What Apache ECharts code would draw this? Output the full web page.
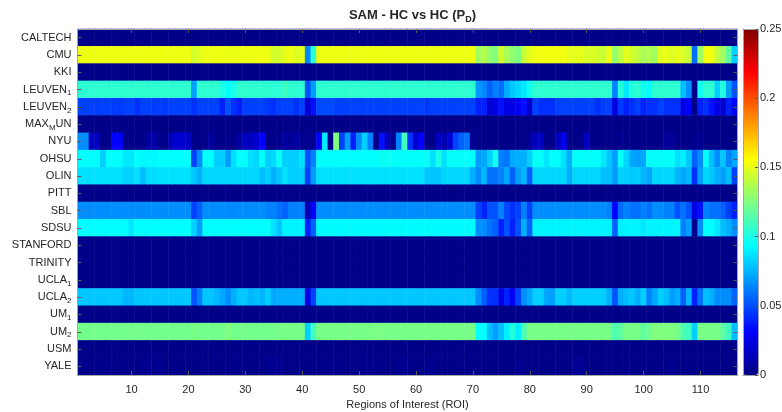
<!DOCTYPE html>
<html>
<head>
<meta charset="utf-8">
<script src="https://cdn.jsdelivr.net/npm/echarts@6/dist/echarts.min.js"></script>
<style>html,body{margin:0;background:#fff}#chart{width:782px;height:412px}</style>
</head>
<body>
<div id="chart"></div>
<script>
// rows top to bottom, tick labels use rich text for the subscripts
const sites = ['CALTECH', 'CMU', 'KKI', 'LEUVEN1', 'LEUVEN2', 'MAXMUN', 'NYU', 'OHSU', 'OLIN', 'PITT',
  'SBL', 'SDSU', 'STANFORD', 'TRINITY', 'UCLA1', 'UCLA2', 'UM1', 'UM2', 'USM', 'YALE']
const siteLabels = ['CALTECH', 'CMU', 'KKI', 'LEUVEN{s|1}', 'LEUVEN{s|2}', 'MAX{s|M}UN', 'NYU', 'OHSU', 'OLIN', 'PITT',
  'SBL', 'SDSU', 'STANFORD', 'TRINITY', 'UCLA{s|1}', 'UCLA{s|2}', 'UM{s|1}', 'UM{s|2}', 'USM', 'YALE']
const roi = Array.from({ length: 116 }, (_, i) => String(i + 1))
const colorTicks = [0, 0.05, 0.1, 0.15, 0.2, 0.25]

const caltech = [
  .002,.002,.002,.002,.002,.002,.002,.002,.002,.002, .002,.002,.002,.002,.002,.002,.002,.002,.002,.002,
  .002,.002,.002,.002,.002,.002,.002,.002,.002,.002, .002,.002,.002,.002,.002,.002,.002,.002,.002,.002,
  .002,.002,.002,.002,.002,.002,.002,.002,.002,.002, .002,.002,.002,.002,.002,.002,.002,.002,.002,.002,
  .002,.002,.002,.002,.002,.002,.002,.002,.002,.002, .002,.002,.002,.002,.002,.002,.002,.002,.002,.002,
  .002,.002,.002,.002,.002,.002,.002,.002,.002,.002, .002,.002,.002,.002,.002,.002,.002,.002,.002,.002,
  .002,.002,.002,.002,.002,.002,.002,.002,.002,.002, .002,.002,.002,.002,.002,.002,
]
const cmu = [
  .152,.152,.152,.152,.152,.152,.152,.152,.152,.152, .152,.152,.152,.152,.152,.152,.152,.152,.152,.152,
  .145,.149,.152,.152,.152,.152,.151,.151,.152,.152, .152,.152,.152,.152,.146,.146,.150,.152,.148,.150,
  .065,.104,.152,.152,.152,.152,.152,.152,.152,.152, .152,.152,.152,.152,.152,.152,.152,.152,.152,.152,
  .152,.152,.152,.152,.152,.152,.152,.152,.152,.152, .133,.137,.129,.125,.145,.135,.129,.125,.143,.149,
  .153,.153,.153,.153,.153,.153,.150,.150,.150,.147, .147,.145,.143,.152,.130,.140,.149,.145,.141,.135,
  .137,.133,.149,.151,.147,.151,.147,.143,.058,.133, .153,.153,.141,.133,.117,.082,
]
const kki = [
  .002,.002,.002,.002,.002,.002,.002,.002,.002,.002, .002,.002,.002,.002,.002,.002,.002,.002,.002,.002,
  .002,.002,.002,.002,.002,.002,.002,.002,.002,.002, .002,.002,.002,.002,.002,.002,.002,.002,.002,.002,
  .002,.002,.002,.002,.002,.002,.002,.002,.002,.002, .002,.002,.002,.002,.002,.002,.002,.002,.002,.002,
  .002,.002,.002,.002,.002,.002,.002,.002,.002,.002, .002,.002,.002,.002,.002,.002,.002,.002,.002,.002,
  .002,.002,.002,.002,.002,.002,.002,.002,.002,.002, .002,.002,.002,.002,.002,.002,.002,.002,.002,.002,
  .002,.002,.002,.002,.002,.002,.002,.002,.002,.002, .002,.002,.002,.002,.002,.002,
]
const leuven1 = [
  .105,.105,.105,.105,.105,.105,.105,.105,.105,.105, .105,.105,.105,.105,.105,.105,.105,.105,.105,.105,
  .070,.105,.105,.105,.105,.100,.094,.100,.105,.105, .105,.105,.105,.105,.104,.104,.109,.105,.105,.105,
  .051,.070,.105,.105,.105,.105,.105,.105,.105,.105, .105,.105,.105,.105,.105,.105,.105,.105,.105,.105,
  .105,.105,.105,.105,.105,.105,.105,.105,.105,.105, .068,.064,.055,.063,.058,.073,.080,.084,.088,.098,
  .105,.105,.105,.105,.105,.105,.105,.105,.105,.105, .105,.105,.105,.105,.063,.102,.088,.102,.105,.098,
  .094,.105,.105,.105,.105,.105,.078,.066,.002,.098, .105,.105,.082,.102,.070,.051,
]
const leuven2 = [
  .047,.047,.047,.046,.047,.047,.046,.045,.047,.047, .043,.047,.047,.046,.047,.045,.047,.047,.047,.047,
  .043,.047,.047,.047,.047,.039,.051,.043,.038,.047, .047,.047,.047,.045,.043,.047,.047,.047,.043,.047,
  .020,.035,.049,.049,.049,.047,.047,.047,.047,.047, .047,.047,.047,.047,.047,.047,.047,.047,.047,.047,
  .047,.045,.047,.047,.047,.047,.047,.047,.047,.047, .039,.039,.020,.024,.035,.024,.024,.028,.035,.020,
  .047,.043,.043,.043,.047,.047,.047,.047,.047,.047, .047,.043,.047,.047,.024,.045,.039,.043,.047,.039,
  .043,.043,.047,.043,.043,.043,.024,.031,.002,.039, .043,.035,.024,.020,.039,.031,
]
const maxmun = [
  .002,.002,.002,.002,.002,.002,.002,.002,.002,.002, .002,.002,.002,.002,.002,.002,.002,.002,.002,.002,
  .002,.002,.002,.002,.002,.002,.002,.002,.002,.002, .002,.002,.002,.002,.002,.002,.002,.002,.002,.002,
  .002,.002,.002,.002,.002,.002,.002,.002,.002,.002, .002,.002,.002,.002,.002,.002,.002,.002,.002,.002,
  .002,.002,.002,.002,.002,.002,.002,.002,.002,.002, .002,.002,.002,.002,.002,.002,.002,.002,.002,.002,
  .002,.002,.002,.002,.002,.002,.002,.002,.002,.002, .002,.002,.002,.002,.002,.002,.002,.002,.002,.002,
  .002,.002,.002,.002,.002,.002,.002,.002,.002,.002, .002,.002,.002,.002,.002,.002,
]
const nyu = [
  .066,.066,.016,.016,.002,.002,.031,.031,.002,.002, .002,.002,.008,.010,.003,.002,.014,.020,.020,.016,
  .002,.002,.002,.008,.002,.002,.002,.002,.008,.016, .016,.020,.031,.002,.002,.004,.008,.006,.008,.004,
  .004,.004,.031,.088,.002,.125,.047,.070,.039,.066, .082,.063,.002,.035,.016,.004,.063,.109,.043,.020,
  .031,.002,.002,.016,.012,.020,.047,.055,.059,.004, .002,.002,.002,.002,.002,.002,.002,.002,.002,.006,
  .016,.016,.002,.002,.016,.028,.002,.002,.002,.016, .002,.002,.002,.002,.002,.004,.002,.002,.002,.002,
  .002,.002,.002,.006,.006,.002,.002,.002,.004,.004, .002,.002,.002,.002,.002,.002,
]
const ohsu = [
  .094,.094,.094,.094,.082,.094,.094,.094,.088,.088, .094,.092,.092,.092,.094,.094,.094,.094,.094,.094,
  .047,.066,.094,.094,.082,.082,.070,.086,.094,.094, .086,.084,.094,.082,.085,.096,.082,.082,.082,.086,
  .051,.063,.094,.094,.094,.094,.094,.094,.094,.094, .094,.094,.094,.096,.096,.095,.095,.095,.095,.095,
  .095,.095,.086,.100,.086,.095,.095,.095,.095,.095, .070,.072,.082,.098,.063,.060,.072,.074,.074,.082,
  .095,.095,.088,.095,.094,.086,.074,.095,.095,.095, .095,.095,.088,.080,.070,.095,.084,.072,.070,.072,
  .095,.095,.095,.095,.095,.086,.090,.080,.055,.066, .095,.078,.066,.080,.063,.072,
]
const olin = [
  .086,.086,.086,.086,.086,.086,.086,.086,.083,.083, .086,.078,.085,.085,.086,.086,.086,.086,.086,.086,
  .080,.074,.084,.084,.084,.084,.084,.084,.084,.084, .084,.084,.078,.082,.074,.080,.086,.082,.082,.082,
  .047,.070,.086,.086,.086,.086,.086,.086,.086,.086, .086,.086,.086,.086,.086,.086,.086,.086,.086,.086,
  .086,.080,.080,.080,.084,.084,.084,.084,.084,.074, .066,.076,.059,.059,.063,.072,.055,.070,.076,.055,
  .084,.084,.084,.084,.084,.084,.074,.084,.084,.084, .084,.084,.078,.078,.070,.082,.082,.080,.082,.076,
  .072,.084,.084,.084,.084,.076,.072,.076,.043,.070, .084,.080,.074,.070,.078,.047,
]
const pitt = [
  .002,.002,.002,.002,.002,.002,.002,.002,.002,.002, .002,.002,.002,.002,.002,.002,.002,.002,.002,.002,
  .002,.002,.002,.002,.002,.002,.002,.002,.002,.002, .002,.002,.002,.002,.002,.002,.002,.002,.002,.002,
  .002,.002,.002,.002,.002,.002,.002,.002,.002,.002, .002,.002,.002,.002,.002,.002,.002,.002,.002,.002,
  .002,.002,.002,.002,.002,.002,.002,.002,.002,.002, .002,.002,.002,.002,.002,.002,.002,.002,.002,.002,
  .002,.002,.002,.002,.002,.002,.002,.002,.002,.002, .002,.002,.002,.002,.002,.002,.002,.002,.002,.002,
  .002,.002,.002,.002,.002,.002,.002,.002,.002,.002, .002,.002,.002,.002,.002,.002,
]
const sbl = [
  .066,.066,.066,.066,.066,.066,.066,.066,.066,.066, .066,.066,.066,.066,.066,.066,.066,.066,.066,.066,
  .047,.055,.066,.066,.066,.066,.065,.065,.066,.066, .066,.066,.066,.063,.063,.059,.055,.063,.063,.063,
  .012,.031,.066,.066,.066,.066,.066,.066,.066,.066, .066,.066,.066,.066,.066,.066,.066,.066,.066,.066,
  .066,.066,.066,.066,.066,.066,.066,.066,.066,.066, .047,.039,.051,.051,.063,.049,.043,.047,.063,.047,
  .066,.066,.066,.066,.066,.066,.066,.066,.066,.066, .066,.066,.066,.063,.031,.057,.063,.059,.059,.063,
  .059,.066,.066,.063,.063,.051,.059,.051,.024,.035, .063,.059,.059,.055,.047,.039,
]
const sdsu = [
  .094,.094,.094,.094,.094,.094,.094,.094,.094,.088, .094,.094,.094,.094,.094,.094,.094,.094,.094,.094,
  .082,.070,.094,.094,.094,.094,.094,.094,.094,.094, .094,.094,.094,.094,.086,.080,.091,.091,.091,.091,
  .039,.055,.093,.093,.093,.093,.093,.093,.093,.093, .093,.093,.093,.093,.093,.093,.093,.093,.093,.093,
  .093,.093,.093,.093,.093,.093,.093,.093,.093,.093, .066,.066,.059,.055,.039,.051,.039,.051,.074,.055,
  .091,.091,.091,.091,.091,.091,.091,.091,.091,.091, .091,.091,.091,.091,.055,.090,.091,.091,.091,.088,
  .091,.091,.091,.091,.091,.092,.063,.070,.003,.066, .094,.094,.088,.078,.074,.066,
]
const stanford = [
  .002,.002,.002,.002,.002,.002,.002,.002,.002,.002, .002,.002,.002,.002,.002,.002,.002,.002,.002,.002,
  .002,.002,.002,.002,.002,.002,.002,.002,.002,.002, .002,.002,.002,.002,.002,.002,.002,.002,.002,.002,
  .002,.002,.002,.002,.002,.002,.002,.002,.002,.002, .002,.002,.002,.002,.002,.002,.002,.002,.002,.002,
  .002,.002,.002,.002,.002,.002,.002,.002,.002,.002, .002,.002,.002,.002,.002,.002,.002,.002,.002,.002,
  .002,.002,.002,.002,.002,.002,.002,.002,.002,.002, .002,.002,.002,.002,.002,.002,.002,.002,.002,.002,
  .002,.002,.002,.002,.002,.002,.002,.002,.002,.002, .002,.002,.002,.002,.002,.002,
]
const trinity = [
  .002,.002,.002,.002,.002,.002,.002,.002,.002,.002, .002,.002,.002,.002,.002,.002,.002,.002,.002,.002,
  .002,.002,.002,.002,.002,.002,.002,.002,.002,.002, .002,.002,.002,.002,.002,.002,.002,.002,.002,.002,
  .002,.002,.002,.002,.002,.002,.002,.002,.002,.002, .002,.002,.002,.002,.002,.002,.002,.002,.002,.002,
  .002,.002,.002,.002,.002,.002,.002,.002,.002,.002, .002,.002,.002,.002,.002,.002,.002,.002,.002,.002,
  .002,.002,.002,.002,.002,.002,.002,.002,.002,.002, .002,.002,.002,.002,.002,.002,.002,.002,.002,.002,
  .002,.002,.002,.002,.002,.002,.002,.002,.002,.002, .002,.002,.002,.002,.002,.002,
]
const ucla1 = [
  .002,.002,.002,.002,.002,.002,.002,.002,.002,.002, .002,.002,.002,.002,.002,.002,.002,.002,.002,.002,
  .002,.002,.002,.002,.002,.002,.002,.002,.002,.002, .002,.002,.002,.002,.002,.002,.002,.002,.002,.002,
  .002,.002,.002,.002,.002,.002,.002,.002,.002,.002, .002,.002,.002,.002,.002,.002,.002,.002,.002,.002,
  .002,.002,.002,.002,.002,.002,.002,.002,.002,.002, .002,.002,.002,.002,.002,.002,.002,.002,.002,.002,
  .002,.002,.002,.002,.002,.002,.002,.002,.002,.002, .002,.002,.002,.002,.002,.002,.002,.002,.002,.002,
  .002,.002,.002,.002,.002,.002,.002,.002,.002,.002, .002,.002,.002,.002,.002,.002,
]
const ucla2 = [
  .080,.080,.080,.080,.080,.080,.080,.080,.076,.076, .080,.080,.080,.080,.080,.080,.080,.080,.080,.080,
  .051,.063,.080,.080,.076,.072,.066,.074,.080,.080, .076,.078,.076,.082,.072,.074,.074,.074,.074,.074,
  .024,.047,.080,.080,.080,.080,.080,.080,.080,.080, .080,.080,.080,.080,.080,.080,.080,.080,.080,.080,
  .080,.080,.080,.080,.080,.080,.080,.080,.080,.080, .066,.055,.043,.043,.024,.039,.028,.047,.066,.072,
  .082,.082,.072,.070,.082,.082,.076,.082,.082,.082, .082,.082,.082,.074,.051,.074,.078,.080,.074,.082,
  .063,.072,.082,.078,.070,.074,.055,.076,.039,.059, .078,.074,.066,.066,.066,.055,
]
const um1 = [
  .002,.002,.002,.002,.002,.002,.002,.002,.002,.002, .002,.002,.002,.002,.002,.002,.002,.002,.002,.002,
  .002,.002,.002,.002,.002,.002,.002,.002,.002,.002, .002,.002,.002,.002,.002,.002,.002,.002,.002,.002,
  .002,.002,.002,.002,.002,.002,.002,.002,.002,.002, .002,.002,.002,.002,.002,.002,.002,.002,.002,.002,
  .002,.002,.002,.002,.002,.002,.002,.002,.002,.002, .002,.002,.002,.002,.002,.002,.002,.002,.002,.002,
  .002,.002,.002,.002,.002,.002,.002,.002,.002,.002, .002,.002,.002,.002,.002,.002,.002,.002,.002,.002,
  .002,.002,.002,.002,.002,.002,.002,.002,.002,.002, .002,.002,.002,.002,.002,.002,
]
const um2 = [
  .122,.122,.122,.122,.122,.122,.122,.122,.122,.122, .122,.122,.122,.122,.122,.122,.122,.122,.122,.122,
  .123,.122,.122,.122,.122,.122,.125,.122,.122,.122, .122,.122,.122,.122,.122,.123,.123,.123,.123,.123,
  .082,.109,.123,.123,.123,.123,.123,.123,.123,.123, .123,.123,.124,.124,.123,.123,.123,.123,.123,.123,
  .123,.123,.123,.123,.123,.123,.123,.123,.123,.123, .094,.094,.078,.070,.078,.090,.102,.090,.113,.123,
  .123,.123,.123,.123,.123,.123,.123,.123,.123,.123, .123,.123,.123,.123,.113,.117,.123,.123,.123,.117,
  .121,.125,.125,.125,.125,.123,.113,.109,.082,.123, .123,.123,.123,.117,.109,.078,
]
const usm = [
  .002,.002,.002,.002,.002,.002,.002,.002,.002,.002, .002,.002,.002,.002,.002,.002,.002,.002,.002,.002,
  .002,.002,.002,.002,.002,.002,.002,.002,.002,.002, .002,.002,.002,.002,.002,.002,.002,.002,.002,.002,
  .002,.002,.002,.002,.002,.002,.002,.002,.002,.002, .002,.002,.002,.002,.002,.002,.002,.002,.002,.002,
  .002,.002,.002,.002,.002,.002,.002,.002,.002,.002, .002,.002,.002,.002,.002,.002,.002,.002,.002,.002,
  .002,.002,.002,.002,.002,.002,.002,.002,.002,.002, .002,.002,.002,.002,.002,.002,.002,.002,.002,.002,
  .002,.002,.002,.002,.002,.002,.002,.002,.002,.002, .002,.002,.002,.002,.002,.002,
]
const yale = [
  .002,.003,.002,.004,.002,.003,.002,.002,.003,.002, .002,.003,.004,.003,.005,.002,.002,.002,.002,.002,
  .002,.002,.002,.002,.002,.002,.002,.003,.004,.002, .002,.002,.002,.004,.004,.005,.002,.002,.002,.002,
  .002,.002,.002,.003,.003,.003,.002,.002,.002,.003, .003,.003,.003,.002,.002,.002,.004,.004,.002,.002,
  .002,.004,.004,.002,.002,.002,.002,.002,.002,.002, .002,.002,.002,.002,.002,.002,.002,.004,.002,.002,
  .002,.002,.002,.002,.002,.002,.002,.005,.005,.002, .002,.002,.002,.002,.002,.002,.002,.002,.002,.002,
  .002,.002,.002,.002,.005,.002,.002,.002,.002,.002, .002,.002,.002,.002,.002,.002,
]

const rows = [caltech, cmu, kki, leuven1, leuven2, maxmun, nyu, ohsu, olin, pitt,
  sbl, sdsu, stanford, trinity, ucla1, ucla2, um1, um2, usm, yale]

const heatData = []
rows.forEach((row, y) => row.forEach((v, x) => heatData.push([x, y, v])))

// jet at evenly spaced stops
const jet = ['#000080', '#0000ff', '#0080ff', '#00ffff', '#80ff80', '#ffff00', '#ff8000', '#ff0000', '#800000']

const font = '"Liberation Sans", Helvetica, Arial, sans-serif'
const textColor = '#262626'
const frameColor = '#a3a3a8'
const tickColor = '#5a5a5a'
// fixed boxes: outerBoundsMode none stops v6 from squeezing the grids to fit labels
const plot = { left: 77.5, top: 29, width: 660, height: 346, outerBoundsMode: 'none' }
const bar = { left: 743, top: 29, width: 15, height: 346, outerBoundsMode: 'none' }

const frameAxis = (extra) => ({
  z: 10,
  axisLine: { show: true, onZero: false, lineStyle: { color: frameColor, width: 1 } },
  axisTick: { show: true, inside: true, length: 4, alignWithLabel: true, lineStyle: { color: tickColor } },
  splitLine: { show: false },
  ...extra,
})
const barFrame = (extra) => ({
  type: 'value', gridIndex: 1, min: 0, max: 0.25, z: 10,
  axisLine: { show: true, onZero: false, lineStyle: { color: frameColor } },
  axisTick: { show: false }, axisLabel: { show: false }, splitLine: { show: false },
  ...extra,
})
const everyTen = (i, v) => Number(v) % 10 === 0

const chart = echarts.init(document.getElementById('chart'))
chart.setOption({
  animation: false,
  textStyle: { fontFamily: font },
  title: {
    text: '{b|SAM - HC vs HC (P}{sub|D}{b|)}',
    left: plot.left + plot.width / 2,
    top: 2,
    textAlign: 'center',
    textStyle: {
      rich: {
        b: { fontSize: 13, fontWeight: 'bold', color: textColor, fontFamily: font },
        sub: { fontSize: 9, fontWeight: 'bold', color: textColor, fontFamily: font, padding: [8, 0, 0, 0] },
      },
    },
  },
  grid: [
    { ...plot, containLabel: false },
    { ...bar, containLabel: false },
  ],
  xAxis: [
    frameAxis({
      type: 'category', data: roi, gridIndex: 0, position: 'bottom',
      axisTick: { show: true, inside: true, length: 4, alignWithLabel: true, interval: everyTen, lineStyle: { color: tickColor } },
      axisLabel: { interval: everyTen, color: textColor, fontSize: 11, margin: 9 },
      name: 'Regions of Interest (ROI)', nameLocation: 'middle', nameGap: 24,
      nameTextStyle: { color: textColor, fontSize: 11 },
    }),
    frameAxis({
      type: 'category', data: roi, gridIndex: 0, position: 'top',
      axisTick: { show: true, inside: true, length: 4, alignWithLabel: true, interval: everyTen, lineStyle: { color: tickColor } },
      axisLabel: { show: false },
    }),
    barFrame({ position: 'bottom' }),
    barFrame({ position: 'top' }),
  ],
  yAxis: [
    frameAxis({
      type: 'category', data: sites, gridIndex: 0, inverse: true, position: 'left',
      axisLabel: {
        interval: 0, color: textColor, fontSize: 11, margin: 6,
        formatter: (v, i) => siteLabels[i],
        rich: { s: { fontSize: 8, color: textColor, padding: [7, 0, 0, 0] } },
      },
    }),
    frameAxis({
      type: 'category', data: sites, gridIndex: 0, inverse: true, position: 'right',
      axisLabel: { show: false },
    }),
    barFrame({
      position: 'right', interval: 0.05,
      axisTick: { show: true, inside: true, length: 3, lineStyle: { color: tickColor } },
      axisLabel: { show: true, color: textColor, fontSize: 11, margin: 2, formatter: (v) => String(v) },
    }),
    barFrame({ position: 'left' }),
  ],
  visualMap: {
    type: 'continuous',
    min: colorTicks[0],
    max: colorTicks[colorTicks.length - 1],
    calculable: false,
    seriesIndex: 0,
    left: bar.left,
    top: bar.top,
    padding: 0,
    itemWidth: bar.width,
    itemHeight: bar.height,
    text: ['', ''],
    textGap: 0,
    inRange: { color: jet },
  },
  series: [
    {
      type: 'heatmap',
      xAxisIndex: 0,
      yAxisIndex: 0,
      data: heatData,
      itemStyle: { borderWidth: 0 },
      emphasis: { disabled: true },
      progressive: 0,
    },
  ],
})
</script>
</body>
</html>
